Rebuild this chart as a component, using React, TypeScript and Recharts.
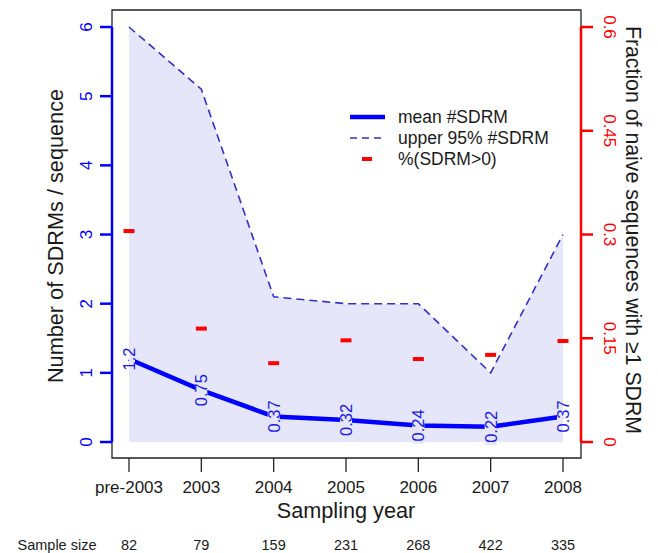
import React from 'react';
import {
  ComposedChart, Area, Line, Scatter, XAxis, YAxis, ReferenceArea, ReferenceLine, LabelList, Customized,
} from 'recharts';

const years = ['pre-2003', '2003', '2004', '2005', '2006', '2007', '2008'];
const sampleSizes = [82, 79, 159, 231, 268, 422, 335];
const meanSDRM = [1.2, 0.75, 0.37, 0.32, 0.24, 0.22, 0.37];
const meanLabels = ['1.2', '0.75', '0.37', '0.32', '0.24', '0.22', '0.37'];
const upper95 = [6.0, 5.1, 2.1, 2.0, 2.0, 1.0, 3.0];
const fracSDRM = [0.305, 0.164, 0.114, 0.147, 0.12, 0.126, 0.146];
const leftTicks = [0, 1, 2, 3, 4, 5, 6];
const rightTicks = [0, 0.15, 0.3, 0.45, 0.6];
const rightTickLabels = ['0', '0.15', '0.3', '0.45', '0.6'];

const data = years.map((y, i) => ({
  idx: i,
  year: y,
  n: sampleSizes[i],
  mean: meanSDRM[i],
  meanLabel: meanLabels[i],
  upper: upper95[i],
  frac: fracSDRM[i],
}));

const FONT = '"Liberation Sans", Arial, Helvetica, sans-serif';
const BLUE = '#0000ff';
const DASHBLUE = '#3030cc';
const RED = '#ff0000';
const BAND = '#e6e6fa';
const TXT = '#1a1a1a';

const X_DOMAIN: [number, number] = [-0.235, 6.249];
const L_DOMAIN: [number, number] = [-0.231, 6.246];
const R_DOMAIN: [number, number] = [-0.0231, 0.6246];

const XTick = (props: any) => {
  const { x, payload, index } = props;
  const i = payload.value as number;
  return (
    <g>
      <text x={x} y={493} textAnchor="middle" fontSize={17} fontFamily={FONT} fill={TXT}>{years[i]}</text>
      <text x={x} y={550} textAnchor="middle" fontSize={14.5} fontFamily={FONT} fill={TXT}>{sampleSizes[i]}</text>
      {index === 0 ? (
        <text x={57} y={550} textAnchor="middle" fontSize={14.5} fontFamily={FONT} fill={TXT}>Sample size</text>
      ) : null}
    </g>
  );
};

const LeftTick = (props: any) => {
  const { y, payload } = props;
  return (
    <text x={92} y={y} transform={`rotate(-90 92 ${y})`} textAnchor="middle" fontSize={17} fontFamily={FONT} fill={BLUE}>
      {String(payload.value)}
    </text>
  );
};

const RightTick = (props: any) => {
  const { y, payload } = props;
  const label = rightTickLabels[rightTicks.indexOf(payload.value)] ?? String(payload.value);
  return (
    <text x={604} y={y} transform={`rotate(90 604 ${y})`} textAnchor="middle" fontSize={17} fontFamily={FONT} fill={RED}>
      {label}
    </text>
  );
};

const MeanLabel = (props: any) => {
  const { x, y, value, index } = props;
  const s = String(value);
  const len = s.length * 8.6;
  const last = meanLabels.length - 1;
  const rx0 = index === 0 ? x : x - 6;
  const rx1 = index === last ? x : x + 6;
  return (
    <g>
      <rect x={rx0} y={y - len / 2 - 1} width={rx1 - rx0} height={len + 2} fill={BAND} />
      <text x={x} y={y} transform={`rotate(-90 ${x} ${y})`} textAnchor="middle" dominantBaseline="central"
        fontSize={16.5} fontFamily={FONT} fill="#1a1ae6">{s}</text>
    </g>
  );
};

const RedMark = (props: any) => {
  const { cx, cy } = props;
  return <rect x={cx - 5.5} y={cy - 2} width={11} height={4} fill={RED} />;
};

const Overlay = () => (
  <g fontFamily={FONT}>
    <text x={62.5} y={236} transform="rotate(-90 62.5 236)" textAnchor="middle" fontSize={21.7} fill={TXT}>
      Number of SDRMs / sequence
    </text>
    <text x={626} y={230} transform="rotate(90 626 230)" textAnchor="middle" fontSize={21.3} fill={TXT}>
      Fraction of naive sequences with ≥1 SDRM
    </text>
    <text x={346} y={518} textAnchor="middle" fontSize={21.7} fill={TXT}>Sampling year</text>
    <line x1={350} x2={385} y1={117} y2={117} stroke={BLUE} strokeWidth={4.5} />
    <text x={398} y={123} fontSize={17.5} fill={TXT}>mean #SDRM</text>
    <line x1={350} x2={385} y1={138} y2={138} stroke={DASHBLUE} strokeWidth={1.5} strokeDasharray="7 5" />
    <text x={398} y={144} fontSize={17.5} fill={TXT}>upper 95% #SDRM</text>
    <rect x={362} y={157} width={10} height={4} fill={RED} />
    <text x={398} y={165} fontSize={17.5} fill={TXT}>%(SDRM&gt;0)</text>
  </g>
);

export default function App() {
  return (
    <div style={{ position: 'absolute', left: 0, top: 0, width: 658, height: 553, background: '#fff', fontFamily: FONT }}>
      <ComposedChart width={658} height={553} data={data} margin={{ top: 10, right: 7, bottom: 55, left: 42 }}>
        <XAxis dataKey="idx" type="number" domain={X_DOMAIN} allowDataOverflow ticks={leftTicks}
          axisLine={false} tickSize={14} tickLine={{ stroke: '#222', strokeWidth: 1.3 }} tick={<XTick />} height={40} interval={0} />
        <YAxis yAxisId="l" orientation="left" type="number" domain={L_DOMAIN} allowDataOverflow ticks={leftTicks}
          axisLine={false} tickSize={12} tickLine={{ stroke: BLUE, strokeWidth: 2.5 }} tick={<LeftTick />} width={70} interval={0} />
        <YAxis yAxisId="r" orientation="right" type="number" domain={R_DOMAIN} allowDataOverflow ticks={rightTicks}
          axisLine={false} tickSize={12} tickLine={{ stroke: RED, strokeWidth: 2.5 }} tick={<RightTick />} width={70} interval={0} />
        <Area yAxisId="l" dataKey="upper" type="linear" fill={BAND} fillOpacity={1} stroke="none" baseValue={0} isAnimationActive={false} />
        <ReferenceArea yAxisId="l" x1={X_DOMAIN[0]} x2={X_DOMAIN[1]} y1={L_DOMAIN[0]} y2={L_DOMAIN[1]}
          fill="none" stroke="#222" strokeWidth={1.3} ifOverflow="visible" />
        <ReferenceLine yAxisId="l" segment={[{ x: X_DOMAIN[0], y: 0 }, { x: X_DOMAIN[0], y: 6 }]}
          stroke={BLUE} strokeWidth={2.5} ifOverflow="visible" />
        <ReferenceLine yAxisId="r" segment={[{ x: X_DOMAIN[1], y: 0 }, { x: X_DOMAIN[1], y: 0.6 }]}
          stroke={RED} strokeWidth={2.5} ifOverflow="visible" />
        <Line yAxisId="l" dataKey="upper" type="linear" stroke={DASHBLUE} strokeWidth={1.6} strokeDasharray="8 5"
          dot={false} activeDot={false} isAnimationActive={false} />
        <Line yAxisId="l" dataKey="mean" type="linear" stroke={BLUE} strokeWidth={4.5}
          dot={false} activeDot={false} isAnimationActive={false}>
          <LabelList dataKey="meanLabel" content={<MeanLabel />} />
        </Line>
        <Scatter yAxisId="r" dataKey="frac" shape={<RedMark />} isAnimationActive={false} />
        <Customized component={<Overlay />} />
      </ComposedChart>
    </div>
  );
}
